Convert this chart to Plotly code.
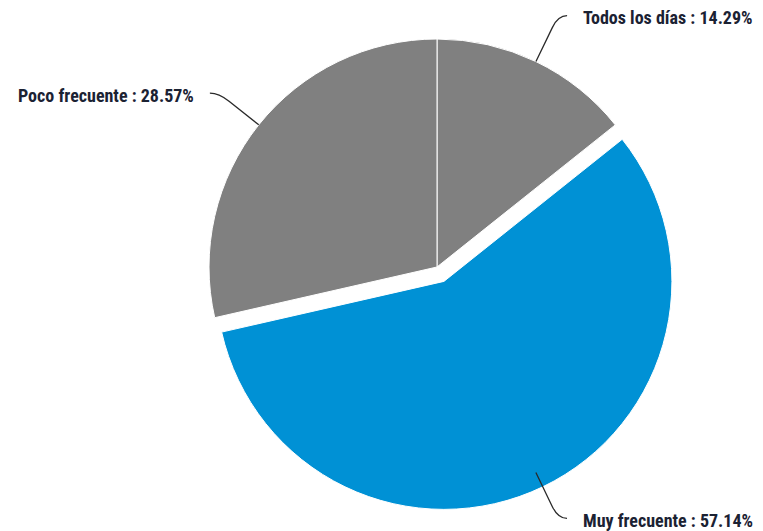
import math
import plotly.graph_objects as go

# Frequency categories and their shares (%)
labels = ["Todos los días", "Muy frecuente", "Poco frecuente"]
values = [14.29, 57.14, 28.57]
colors = ["#808080", "#0091d5", "#808080"]
pulls = [0, 0.07, 0]

W, H = 763, 531
CX, CY = 437, 267          # pie centre in pixels
R = 228                    # pie radius in pixels
half = R * (1 + max(pulls))


def px(x):
    return x / W


def py(y):
    return 1 - y / H


fig = go.Figure(
    go.Pie(
        labels=labels,
        values=values,
        sort=False,
        direction="clockwise",
        rotation=0,
        pull=pulls,
        marker=dict(colors=colors, line=dict(color="white", width=1)),
        textinfo="none",
        hoverinfo="label+percent",
        domain=dict(x=[px(CX - half), px(CX + half)], y=[py(CY + half), py(CY - half)]),
        showlegend=False,
    )
)

# Leader lines and outside labels placed from each slice's mid-angle
shapes, annotations = [], []
total = sum(values)
start = 0.0
for lab, val in zip(labels, values):
    mid = math.radians((start + val / 2) / total * 360)
    start += val
    dx, dy = math.sin(mid), -math.cos(mid)
    side = 1 if dx >= 0 else -1
    sx, sy = CX + R * dx, CY + R * dy
    ax, ay = CX + (R + 38) * dx, CY + (R + 38) * dy
    qx, qy = CX + (R + 51) * dx, CY + (R + 51) * dy
    ex, ey = qx + side * 9, qy
    path = (f"M {px(sx)},{py(sy)} L {px(ax)},{py(ay)} "
            f"Q {px(qx)},{py(qy)} {px(ex)},{py(ey)}")
    shapes.append(dict(type="path", xref="paper", yref="paper", path=path,
                       line=dict(color="#2a2a2a", width=1.3)))
    annotations.append(dict(
        x=px(ex + side * 14), y=py(ey + 2), xref="paper", yref="paper",
        text=f"{lab} : {val:.2f}%", showarrow=False,
        xanchor="left" if side > 0 else "right", yanchor="middle",
        font=dict(family="Liberation Sans Narrow, Roboto Condensed, Arial Narrow, sans-serif",
                  size=18, color="#1b2233", weight="bold"),
    ))

fig.update_layout(
    width=W, height=H,
    margin=dict(l=0, r=0, t=0, b=0),
    paper_bgcolor="white",
    plot_bgcolor="white",
    shapes=shapes,
    annotations=annotations,
)

fig.write_html("out.html")
